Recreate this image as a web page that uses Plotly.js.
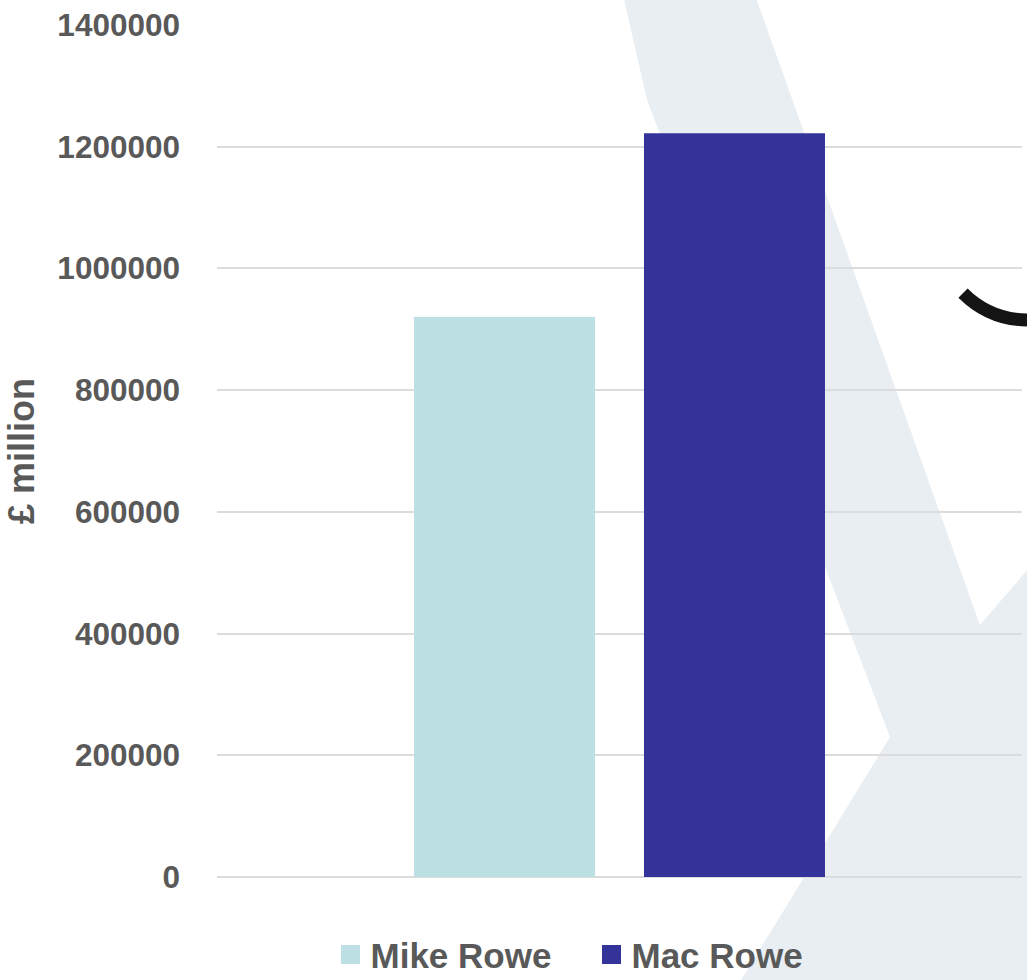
<!DOCTYPE html>
<html>
<head>
<meta charset="utf-8">
<script src="https://cdn.plot.ly/plotly-3.0.1.min.js"></script>
<style>html,body{margin:0;padding:0;background:#fff;}#chart{width:1027px;height:980px;}</style>
</head>
<body>
<div id="chart"></div>
<script>
// ---- data ----
const categories = ['Total'];
const seriesNames = ['Mike Rowe', 'Mac Rowe'];
const mikeRowe = [920000];
const macRowe = [1222000];
const yTickValues = [0, 200000, 400000, 600000, 800000, 1000000, 1200000, 1400000];
const yTickLabels = ['0', '200000', '400000', '600000', '800000', '1000000', '1200000', '1400000'];
const yAxisTitle = '£ million';

// ---- layout geometry (page pixels) ----
const W = 1027, H = 980;
const M = {l: 217, r: 5, t: 25, b: 103, autoexpand: false};
const pw = W - M.l - M.r, ph = H - M.t - M.b;
const px = x => (x - M.l) / pw;
const py = y => (H - M.b - y) / ph;
function pathFrom(pts) {
  return 'M' + pts.map(p => px(p[0]).toFixed(4) + ',' + py(p[1]).toFixed(4)).join('L') + 'Z';
}

const grey = '#595959';
const fontFam = 'Liberation Sans, Arial, sans-serif';

const traces = [
  {type: 'bar', name: seriesNames[0], x: categories, y: mikeRowe, marker: {color: '#bce0e3'}, hoverinfo: 'y'},
  {type: 'bar', name: seriesNames[1], x: categories, y: macRowe, marker: {color: '#343399'}, hoverinfo: 'y'}
];

// decorative watermark background
const band = pathFrom([[623,-5],[755,-5],[980,625],[1040,555],[1040,990],[735,990],[890,737],[647,100]]);
const curl = 'M' + px(963).toFixed(4) + ',' + py(293).toFixed(4) +
             ' Q' + px(992).toFixed(4) + ',' + py(322).toFixed(4) +
             ' ' + px(1035).toFixed(4) + ',' + py(320).toFixed(4);

const layout = {
  width: W, height: H,
  margin: M,
  paper_bgcolor: '#ffffff',
  plot_bgcolor: 'rgba(0,0,0,0)',
  font: {family: fontFam, color: grey},
  barmode: 'group',
  bargap: 0.4286,
  bargroupgap: 0.213,
  showlegend: true,
  legend: {
    orientation: 'h',
    x: px(330.5), xanchor: 'left',
    y: -0.0565, yanchor: 'top',
    entrywidth: 216, entrywidthmode: 'pixels',
    font: {size: 35, color: grey, weight: 'bold', family: fontFam},
    bgcolor: 'rgba(0,0,0,0)'
  },
  xaxis: {
    showticklabels: false, showgrid: false, zeroline: false, showline: false, ticks: ''
  },
  yaxis: {
    range: [0, 1400000],
    tickvals: yTickValues,
    ticktext: yTickLabels,
    tickfont: {size: 31.5, color: grey, weight: 'bold', family: fontFam},
    ticklabelstandoff: 36,
    showgrid: true, gridcolor: '#dcdcdc', gridwidth: 2,
    zeroline: true, zerolinecolor: '#dcdcdc', zerolinewidth: 2,
    showline: false, ticks: '',
    title: {text: yAxisTitle, font: {size: 36, color: grey, weight: 'bold', family: fontFam}, standoff: 11}
  },
  shapes: [
    {type: 'path', xref: 'paper', yref: 'paper', path: band, fillcolor: '#e9eef3', line: {width: 0}, layer: 'below'},
    {type: 'path', xref: 'paper', yref: 'paper', path: curl, line: {color: '#141414', width: 13}, layer: 'below'}
  ]
};

Plotly.newPlot('chart', traces, layout, {displayModeBar: false, staticPlot: true}).then(function () {
  document.querySelectorAll('.legend .legendpoints path').forEach(function (p) {
    p.setAttribute('d', 'M9.5,9.5H-9.5V-9.5H9.5Z');
  });
});
</script>
</body>
</html>
